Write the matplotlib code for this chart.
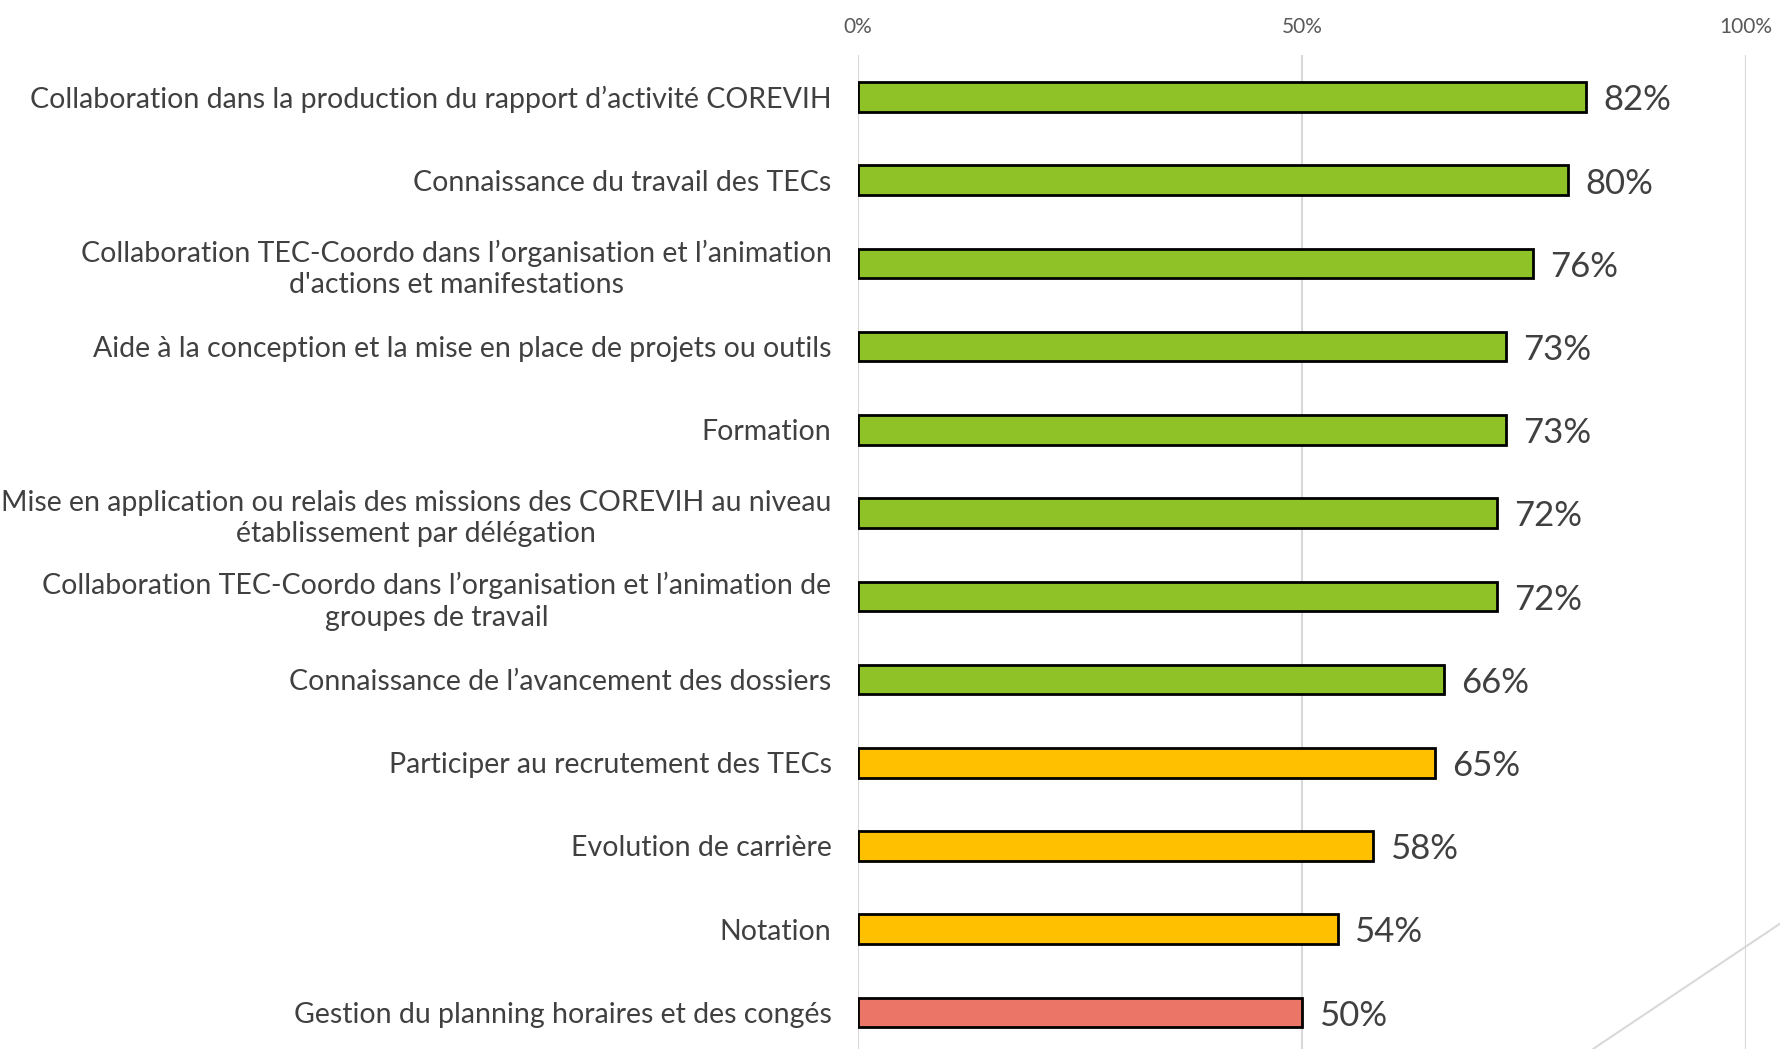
import matplotlib.pyplot as plt
from matplotlib.lines import Line2D

# Données
categories = [
    "Collaboration dans la production du rapport d\u2019activité COREVIH",
    "Connaissance du travail des TECs",
    "Collaboration TEC-Coordo dans l\u2019organisation et l\u2019animation\nd'actions et manifestations",
    "Aide à la conception et la mise en place de projets ou outils",
    "Formation",
    "Mise en application ou relais des missions des COREVIH au niveau\nétablissement par délégation",
    "Collaboration TEC-Coordo dans l\u2019organisation et l\u2019animation de\ngroupes de travail",
    "Connaissance de l\u2019avancement des dossiers",
    "Participer au recrutement des TECs",
    "Evolution de carrière",
    "Notation",
    "Gestion du planning horaires et des congés",
]
values = [82, 80, 76, 73, 73, 72, 72, 66, 65, 58, 54, 50]
bar_colors = ["#8FC226"] * 8 + ["#FFC000"] * 3 + ["#EB7566"]
x_ticks = [0, 50, 100]
x_tick_labels = ["0%", "50%", "100%"]

plt.rcParams['font.family'] = ['Lato', 'DejaVu Sans']

fig = plt.figure(figsize=(17.81, 10.49), dpi=100)
ax = fig.add_axes([858 / 1781, 0.0, 888 / 1781, 1 - 55 / 1049])

y = list(range(len(values)))
ax.barh(y, values, height=0.355, color=bar_colors, edgecolor="black", linewidth=2, zorder=3)

for yi, v in zip(y, values):
    ax.text(v + 1.9, yi + 0.04, f"{v}%", va="center", ha="left", fontsize=25, color="#404040")

ax.set_xlim(0, 100)
ax.set_ylim(len(values) - 1 + 0.44, -0.505)
ax.set_xticks(x_ticks)
ax.set_xticklabels(x_tick_labels, fontsize=15, color="#595959")
ax.xaxis.tick_top()
ax.tick_params(axis="x", length=0, pad=13)
ax.set_yticks(y)
ax.set_yticklabels(categories, fontsize=20.5, color="#404040", linespacing=1.25)
ax.tick_params(axis="y", length=0, pad=19)
for lbl in ax.get_yticklabels():
    lbl.set_multialignment("center")

ax.grid(axis="x", color="#D9D9D9", linewidth=1.5, zorder=0)
for s in ax.spines.values():
    s.set_visible(False)

# trait diagonal décoratif en bas à droite
fig.add_artist(Line2D([1593 / 1781, 1.0], [0.0, 1 - 923 / 1049],
                      transform=fig.transFigure, color="#D9D9D9", linewidth=1.5))

fig.savefig("out.png", dpi=100)
